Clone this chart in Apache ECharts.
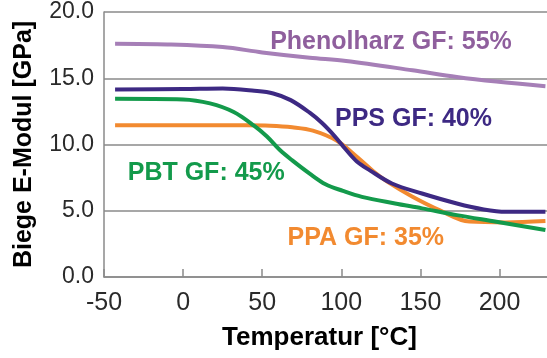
<!DOCTYPE html>
<html><head><meta charset="utf-8">
<script src="https://cdn.jsdelivr.net/npm/echarts@6/dist/echarts.min.js"></script>
<style>html,body{margin:0;padding:0;background:#fff}#c{width:547px;height:358px}</style>
</head><body><div id="c"></div>
<script>
// Temperatures [°C] and Biege E-Modul [GPa] per material
var phenolT = [-43, -10, 25, 50, 80, 103, 145, 173, 198, 229];
var phenolV = [17.6, 17.55, 17.35, 16.95, 16.55, 16.3, 15.6, 15.1, 14.75, 14.4];
var ppsT = [-43, 0, 25, 45, 57, 68, 80, 88, 96, 103, 110, 118, 132, 151, 173, 190, 204, 229];
var ppsV = [14.15, 14.18, 14.22, 14.05, 13.85, 13.35, 12.4, 11.6, 10.6, 9.6, 8.7, 8.05, 7.06, 6.3, 5.55, 5.1, 4.92, 4.92];
var ppaT = [-43, 0, 40, 55, 69, 82, 97, 110, 120, 129, 145, 162, 181, 204, 229];
var ppaV = [11.45, 11.45, 11.45, 11.42, 11.3, 11.05, 10.3, 9.05, 8.0, 7.2, 6.06, 5.05, 4.18, 4.12, 4.22];
var pbtT = [-43, 0, 17, 32, 45, 53, 61, 69, 80, 90, 101, 113, 134, 151, 173, 198, 229];
var pbtV = [13.45, 13.4, 13.1, 12.45, 11.4, 10.6, 9.6, 8.8, 7.8, 7.0, 6.5, 6.05, 5.55, 5.18, 4.67, 4.17, 3.54];

var seriesNames = ['Phenolharz GF: 55%', 'PPS GF: 40%', 'PBT GF: 45%', 'PPA GF: 35%'];
// label anchor positions in data coordinates [temperature, modulus]
var labelAnchors = [[55, 17.7], [96, 11.9], [-35, 7.85], [66, 2.94]];
var yTicks = [0, 5, 10, 15, 20];
var xTicks = [-50, 0, 50, 100, 150, 200];

var font = "'Liberation Sans', Arial, Helvetica, sans-serif";
var lineColors = ['#a67fb7', '#3d2983', '#139a4b', '#f28a30'];
var textColors = ['#8f5f9d', '#3d2983', '#139a4b', '#f28a30'];

function pairs(t, v) { return t.map(function (x, i) { return [x, v[i]]; }); }
var allData = [pairs(phenolT, phenolV), pairs(ppsT, ppsV), pairs(pbtT, pbtV), pairs(ppaT, ppaV)];

var chart = echarts.init(document.getElementById('c'), null, {renderer: 'canvas'});
chart.setOption({
  animation: false,
  backgroundColor: '#fff',
  grid: {left: 104, right: 0, top: 12, bottom: 81, containLabel: false},
  xAxis: {
    type: 'value', min: -50, max: 230, interval: 50,
    name: 'Temperatur [°C]', nameLocation: 'middle', nameGap: 48,
    nameTextStyle: {fontFamily: font, fontWeight: 'bold', fontSize: 26, color: '#000', padding: [0, 12, 0, 0]},
    axisLine: {show: true, onZero: false, lineStyle: {color: '#8a8a8a', width: 1.5}},
    axisTick: {show: true, inside: true, length: 8, lineStyle: {color: '#8a8a8a', width: 1.5}},
    axisLabel: {fontFamily: font, fontSize: 25, color: '#2a2a2a', margin: 14, showMaxLabel: false,
      formatter: function (v) { return xTicks.indexOf(v) >= 0 ? String(v) : ''; }},
    splitLine: {show: false}
  },
  yAxis: {
    type: 'value', min: 0, max: 20, interval: 5,
    name: 'Biege E-Modul [GPa]', nameLocation: 'middle', nameGap: 67, nameRotate: 90,
    nameTextStyle: {fontFamily: font, fontWeight: 'bold', fontSize: 25, color: '#000'},
    axisLine: {show: true, onZero: false, lineStyle: {color: '#8a8a8a', width: 1.5}},
    axisTick: {show: false},
    axisLabel: {fontFamily: font, fontSize: 23, color: '#2a2a2a', margin: 10, padding: [8, 0, 0, 0],
      formatter: function (v) { return yTicks.indexOf(v) >= 0 ? v.toFixed(1) : ''; }},
    splitLine: {show: true, lineStyle: {color: '#8a8a8a', width: 1.5}}
  },
  series: seriesNames.map(function (n, i) {
    return {
      name: n, type: 'line', data: allData[i], smooth: 0.35, showSymbol: false, symbol: 'none',
      lineStyle: {color: lineColors[i], width: 4},
      itemStyle: {color: lineColors[i]},
      z: 4 - i,
      markPoint: {
        symbol: 'circle', symbolSize: 0, silent: true,
        data: [{coord: labelAnchors[i], value: n,
          label: {show: true, position: 'inside', align: 'left', verticalAlign: 'middle', formatter: n,
            fontFamily: font, fontWeight: 'bold', fontSize: 25, color: textColors[i]}}]
      }
    };
  })
});
</script></body></html>
